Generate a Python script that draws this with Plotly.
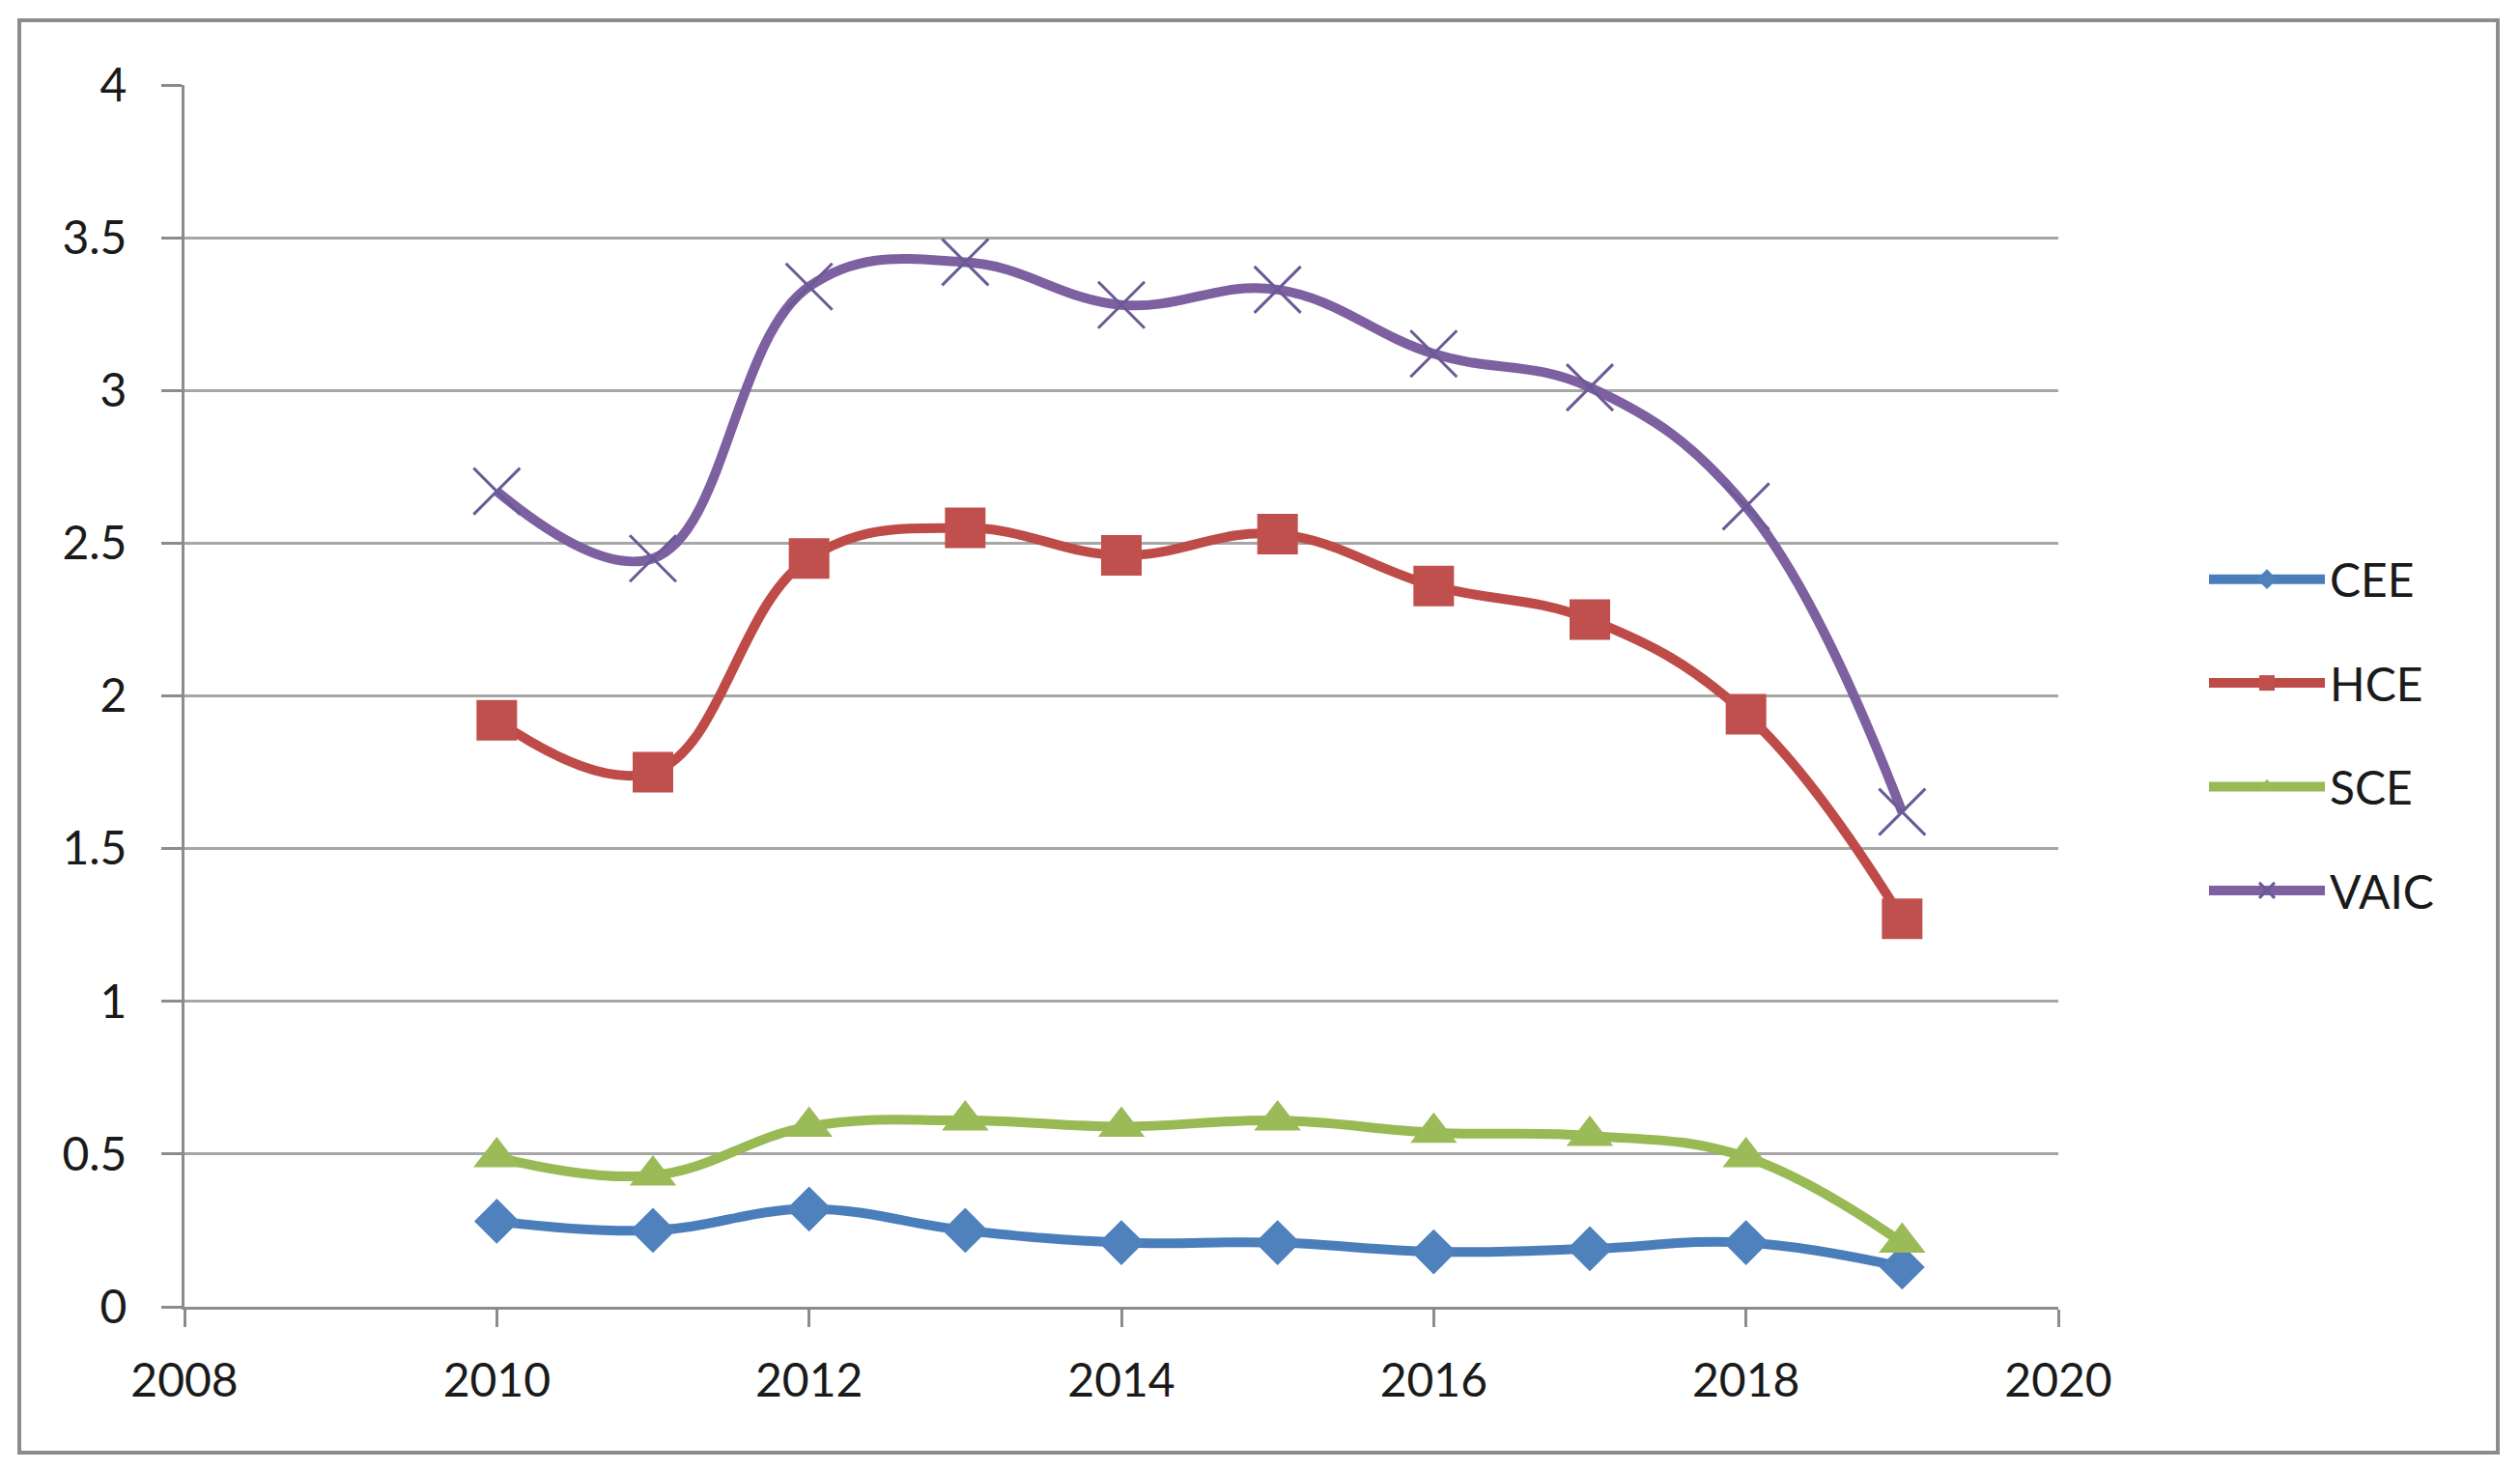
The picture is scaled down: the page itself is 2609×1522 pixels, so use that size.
import plotly.graph_objects as go

years = [2010, 2011, 2012, 2013, 2014, 2015, 2016, 2017, 2018, 2019]
cee = [0.28, 0.25, 0.32, 0.25, 0.21, 0.21, 0.18, 0.19, 0.21, 0.13]
hce = [1.92, 1.75, 2.45, 2.55, 2.46, 2.53, 2.36, 2.25, 1.94, 1.27]
sce = [0.49, 0.43, 0.59, 0.61, 0.59, 0.61, 0.57, 0.56, 0.49, 0.21]
vaic = [2.67, 2.45, 3.34, 3.42, 3.28, 3.33, 3.12, 3.01, 2.62, 1.62]

x_ticks = [2008, 2010, 2012, 2014, 2016, 2018, 2020]
y_ticks = [0, 0.5, 1, 1.5, 2, 2.5, 3, 3.5, 4]
y_tick_text = ["0", "0.5", "1", "1.5", "2", "2.5", "3", "3.5", "4"]

FONT = "Lato"
SMOOTH = 1.15

fig = go.Figure()

fig.add_trace(go.Scatter(
    x=years, y=cee, name="CEE", mode="lines+markers", legendgroup="a",
    line=dict(color="#4A7EBB", width=10, shape="spline", smoothing=SMOOTH),
    marker=dict(symbol="diamond", size=36, color="#4F81BD"),
))
fig.add_trace(go.Scatter(
    x=years, y=hce, name="HCE", mode="lines+markers", legendgroup="b",
    line=dict(color="#BE4B48", width=10, shape="spline", smoothing=SMOOTH),
    marker=dict(symbol="square", size=42, color="#C0504D"),
))
fig.add_trace(go.Scatter(
    x=years, y=sce, name="SCE", mode="lines+markers", legendgroup="c",
    line=dict(color="#98B954", width=10, shape="spline", smoothing=SMOOTH),
    marker=dict(symbol="triangle-up", size=42, color="#9BBB59"),
))
fig.add_trace(go.Scatter(
    x=years, y=vaic, name="VAIC", mode="lines+markers", legendgroup="d",
    line=dict(color="#7D60A0", width=10, shape="spline", smoothing=SMOOTH),
    marker=dict(symbol="x-thin", size=48, color="#7060A0",
                line=dict(color="#6A5A96", width=3)),
))

W, H = 2609, 1522
L, R, T, B = 191, 478, 88, 169
pw, ph = W - L - R, H - T - B

def px2paper_x(px):
    return (px - L) / pw

def px2paper_y(py):
    return (H - B - py) / ph

fig.update_layout(
    width=W, height=H,
    margin=dict(l=L, r=R, t=T, b=B, autoexpand=False),
    paper_bgcolor="white", plot_bgcolor="white",
    font=dict(family=FONT, size=48, color="#1a1a1a"),
    showlegend=True,
    legend=dict(
        x=px2paper_x(2282), xanchor="left",
        y=px2paper_y(761), yanchor="middle",
        font=dict(family=FONT, size=48, color="#1a1a1a"),
        itemwidth=120, tracegroupgap=42,
        bgcolor="rgba(0,0,0,0)",
    ),
    xaxis=dict(
        range=[2008, 2020], tickvals=x_ticks, ticktext=[str(v) for v in x_ticks],
        showgrid=False, zeroline=False,
        showline=True, linecolor="#8C8C8C", linewidth=3,
        ticks="outside", ticklen=18, tickwidth=3, tickcolor="#8C8C8C",
        tickfont=dict(family=FONT, size=48, color="#1a1a1a"),
        ticklabelstandoff=14,
        fixedrange=True,
    ),
    yaxis=dict(
        range=[0, 4], tickvals=y_ticks, ticktext=y_tick_text,
        showgrid=True, gridcolor="#A6A6A6", gridwidth=3,
        zeroline=False,
        showline=True, linecolor="#8C8C8C", linewidth=3,
        ticks="outside", ticklen=21, tickwidth=3, tickcolor="#8C8C8C",
        tickfont=dict(family=FONT, size=48, color="#1a1a1a"),
        ticklabelstandoff=26,
        fixedrange=True,
    ),
    shapes=[
        dict(type="rect", xref="paper", yref="paper",
             x0=px2paper_x(20), x1=px2paper_x(2586),
             y0=px2paper_y(1504), y1=px2paper_y(21),
             line=dict(color="#8C8C8C", width=4), fillcolor="rgba(0,0,0,0)",
             layer="below"),
    ],
)

fig.write_html("out.html", config={"displayModeBar": False},
               post_script="document.body.style.margin='0';")
